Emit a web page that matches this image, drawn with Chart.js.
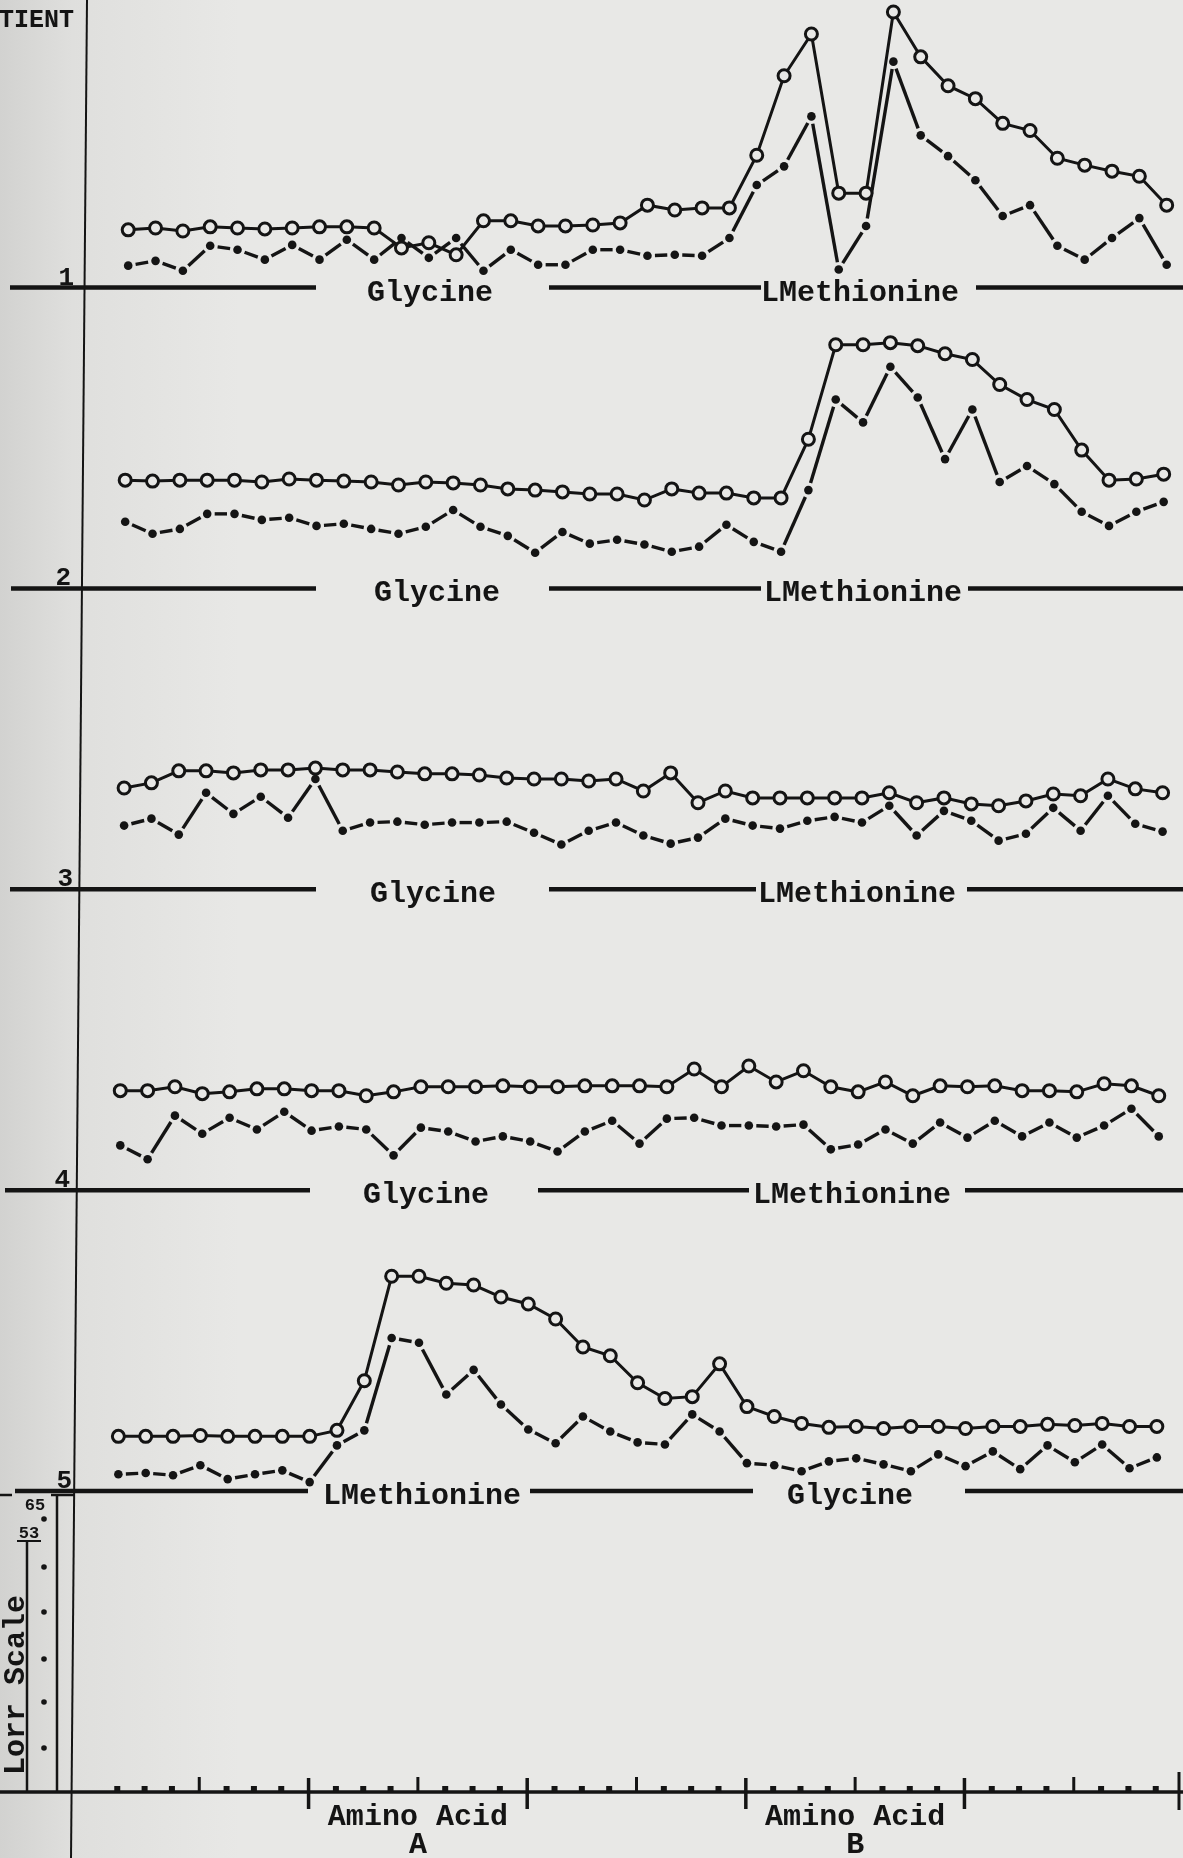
<!DOCTYPE html>
<html>
<head>
<meta charset="utf-8">
<title>Patients 1-5: Glycine / LMethionine</title>
<script src="https://cdn.jsdelivr.net/npm/chart.js@4.4.1/dist/chart.umd.min.js"></script>
<style>
  html, body { margin: 0; padding: 0; background: #e8e8e6; }
  canvas { display: block; }
</style>
</head>
<body>
<canvas id="chart" width="1183" height="1858"></canvas>
<script>
// heights above each patient's base line (one panel = 100)
var patients = ["1", "2", "3", "4", "5"];

var circles1 = [19.2, 19.8, 18.8, 20.2, 19.8, 19.5, 19.8, 20.2, 20.2, 19.8, 13.2, 14.9, 10.9, 22.2, 22.2, 20.5, 20.5,
  20.8, 21.5, 27.4, 25.8, 26.5, 26.5, 44.0, 70.4, 84.3, 31.4, 31.4, 91.6, 76.7, 67.1, 62.8, 54.6, 52.2, 43.0, 40.7, 38.7, 37.0, 27.4];
var dots1 = [7.3, 8.9, 5.6, 13.9, 12.6, 9.3, 14.2, 9.3, 15.9, 9.3, 16.5, 9.9, 16.5, 5.6, 12.6, 7.6, 7.6,
  12.6, 12.6, 10.6, 10.9, 10.6, 16.5, 34.1, 40.3, 56.9, 6.0, 20.5, 75.1, 50.6, 43.7, 35.7, 23.8, 27.4, 13.9, 9.3, 16.5, 23.1, 7.6];

var circles2 = [36.0, 35.7, 36.0, 36.0, 36.0, 35.4, 36.4, 36.0, 35.7, 35.4, 34.4, 35.4, 35.1, 34.4, 33.1, 32.7, 32.1,
  31.4, 31.4, 29.4, 33.1, 31.7, 31.7, 30.1, 30.1, 49.6, 81.0, 81.0, 81.7, 80.7, 78.0, 76.1, 67.8, 62.8, 59.5, 46.0, 36.0, 36.4, 38.0];
var dots2 = [22.2, 18.2, 19.8, 24.8, 24.8, 22.8, 23.5, 20.8, 21.5, 19.8, 18.2, 20.5, 26.1, 20.5, 17.5, 11.9, 18.8,
  14.9, 16.2, 14.6, 12.2, 13.9, 21.2, 15.5, 12.2, 32.7, 62.8, 55.2, 73.7, 63.5, 43.0, 59.5, 35.4, 40.7, 34.7, 25.5, 20.8, 25.5, 28.8];

var circles3 = [33.7, 35.4, 39.4, 39.4, 38.7, 39.7, 39.7, 40.3, 39.7, 39.7, 39.0, 38.4, 38.4, 38.0, 37.0, 36.7, 36.7,
  36.0, 36.7, 32.7, 38.7, 28.8, 32.7, 30.4, 30.4, 30.4, 30.4, 30.4, 32.1, 28.8, 30.4, 28.4, 27.8, 29.4, 31.7, 31.1, 36.7, 33.4, 32.1];
var dots3 = [21.2, 23.5, 18.2, 32.1, 25.1, 30.8, 23.8, 36.7, 19.5, 22.2, 22.5, 21.5, 22.2, 22.2, 22.5, 18.8, 14.9,
  19.5, 22.2, 17.9, 15.2, 17.2, 23.5, 21.2, 20.2, 22.8, 24.1, 22.2, 27.8, 17.9, 26.1, 22.8, 16.2, 18.5, 27.1, 19.5, 31.1, 21.8, 19.2];

var circles4 = [33.1, 33.1, 34.4, 32.1, 32.7, 33.7, 33.7, 33.1, 33.1, 31.4, 32.7, 34.4, 34.4, 34.4, 34.7, 34.4, 34.4, 34.7,
  34.7, 34.7, 34.4, 40.3, 34.4, 41.3, 36.0, 39.7, 34.4, 32.7, 36.0, 31.4, 34.7, 34.4, 34.7, 33.1, 33.1, 32.7, 35.4, 34.7, 31.4];
var dots4 = [14.9, 10.3, 24.8, 18.8, 24.1, 20.2, 26.1, 19.8, 21.2, 20.2, 11.6, 20.8, 19.5, 16.2, 17.9, 16.2, 12.9,
  19.5, 23.1, 15.5, 23.8, 24.1, 21.5, 21.5, 21.2, 21.8, 13.6, 15.2, 20.2, 15.5, 22.5, 17.5, 23.1, 17.9, 22.5, 17.5, 21.5, 27.1, 17.9];

var circles5 = [18.2, 18.2, 18.2, 18.5, 18.2, 18.2, 18.2, 18.2, 20.2, 36.7, 71.4, 71.4, 69.1, 68.5, 64.5, 62.2, 57.2, 47.9,
  45.0, 36.0, 30.8, 31.4, 42.3, 28.1, 24.8, 22.5, 21.2, 21.5, 20.8, 21.5, 21.5, 20.8, 21.5, 21.5, 22.2, 21.8, 22.5, 21.5, 21.5];
var dots5 = [5.6, 6.0, 5.3, 8.6, 4.0, 5.6, 6.9, 3.0, 15.2, 20.2, 50.9, 49.3, 32.1, 40.3, 28.8, 20.5, 15.9,
  24.8, 19.8, 16.2, 15.5, 25.5, 19.8, 9.3, 8.6, 6.6, 9.9, 10.9, 8.9, 6.6, 12.2, 8.3, 13.2, 7.3, 15.2, 9.6, 15.5, 7.6, 11.2];

// time of first reading on each sheet (one unit = one tick on the bottom axis)
var startTime = [1.40, 1.29, 1.25, 1.11, 1.04];

var periodLabels = [
  ["Glycine", "LMethionine"],
  ["Glycine", "LMethionine"],
  ["Glycine", "LMethionine"],
  ["Glycine", "LMethionine"],
  ["LMethionine", "Glycine"]
];
var axisLabels = [["Amino Acid", "A"], ["Amino Acid", "B"]];
var axisLabelAt = [12, 28];
var lorrLabels = ["65", "53"];

var circleSets = [circles1, circles2, circles3, circles4, circles5];
var dotSets = [dots1, dots2, dots3, dots4, dots5];

var INK = "#141414";
var PAPER = "#e8e8e6";
var MONO = "'Liberation Mono', 'DejaVu Sans Mono', monospace";

// where the base lines are broken for the labels (px)
var panelLayout = [
  { segs: [[10, 316], [549, 761], [976, 1183]], text: [430, 860], num: 74 },
  { segs: [[11, 316], [549, 761], [968, 1183]], text: [437, 863], num: 71 },
  { segs: [[10, 316], [549, 756], [967, 1183]], text: [433, 857], num: 73 },
  { segs: [[5, 310], [538, 749], [965, 1183]], text: [426, 852], num: 70 },
  { segs: [[15, 308], [530, 753], [965, 1183]], text: [422, 850], num: 72 }
];

function panelBase(i) { return (patients.length - i) * 100; }

function toPoints(values, i) {
  return values.map(function(v, k) { return { x: startTime[i] + k, y: panelBase(i) + v }; });
}

var GAP = 7.5;
function segLen(ctx) {
  return Math.hypot(ctx.p1.x - ctx.p0.x, ctx.p1.y - ctx.p0.y);
}

var datasets = [];
patients.forEach(function(p, i) {
  datasets.push({
    label: "Patient " + p + " (o)",
    data: toPoints(circleSets[i], i),
    borderColor: INK,
    borderWidth: 3,
    pointRadius: 6,
    pointBorderWidth: 3,
    pointBorderColor: INK,
    pointBackgroundColor: PAPER,
    tension: 0,
    clip: false
  });
  datasets.push({
    label: "Patient " + p + " (.)",
    data: toPoints(dotSets[i], i),
    borderColor: INK,
    borderWidth: 3.4,
    pointRadius: 4.3,
    pointBorderWidth: 0,
    pointBackgroundColor: INK,
    tension: 0,
    clip: false,
    segment: {
      borderDash: function(ctx) {
        var d = Math.max(segLen(ctx) - 2 * GAP, 1);
        return [d, 2 * GAP];
      },
      borderDashOffset: function(ctx) {
        return Math.max(segLen(ctx) - 2 * GAP, 1) + GAP;
      }
    }
  });
});

function stroke(c, x1, y1, x2, y2) {
  c.beginPath(); c.moveTo(x1, y1); c.lineTo(x2, y2); c.stroke();
}

var paperPlugin = {
  id: "paper",
  beforeDraw: function(chart) {
    var c = chart.ctx;
    var g = c.createLinearGradient(0, 0, 240, 0);
    g.addColorStop(0, "#d2d2d0");
    g.addColorStop(0.3, "#dfdfdd");
    g.addColorStop(1, PAPER);
    c.save();
    c.fillStyle = g;
    c.fillRect(0, 0, chart.width, chart.height);
    c.restore();
  }
};

var sheetPlugin = {
  id: "sheet",
  beforeDatasetsDraw: function(chart) {
    var c = chart.ctx, xs = chart.scales.x, ys = chart.scales.y;
    c.save();
    c.strokeStyle = INK;
    c.fillStyle = INK;
    c.lineCap = "butt";

    // heading, cut off at the edge
    c.font = "bold 25px " + MONO;
    c.textAlign = "left";
    c.fillText("TIENT", -1, 27);

    // margin line
    c.lineWidth = 2;
    stroke(c, 87, 0, 71, chart.height);

    // base line of every patient
    patients.forEach(function(p, i) {
      var y = ys.getPixelForValue(panelBase(i));
      var L = panelLayout[i];
      c.lineWidth = 4.5;
      L.segs.forEach(function(s) { stroke(c, s[0], y, s[1], y); });
      c.font = "bold 30px " + MONO;
      c.textAlign = "center";
      periodLabels[i].forEach(function(t, k) { c.fillText(t, L.text[k], y + 13); });
      c.font = "bold 26px " + MONO;
      c.textAlign = "right";
      c.fillText(p, L.num, y - 3);
    });

    // bottom time axis
    var y0 = ys.getPixelForValue(0);
    c.lineWidth = 3.5;
    stroke(c, 0, y0, chart.width, y0);
    for (var u = 1; u <= 39; u++) {
      var x = xs.getPixelForValue(u);
      if (u % 8 === 0) {
        c.lineWidth = 3.5; stroke(c, x, y0 - 14, x, y0 + 17);
      } else if (u % 8 === 4) {
        c.lineWidth = 3; stroke(c, x, y0 - 15, x, y0);
      } else {
        c.fillRect(x - 3, y0 - 6, 6, 6);
      }
    }
    c.lineWidth = 3;
    stroke(c, 1179, y0 - 20, 1179, y0 + 18);

    c.font = "bold 30px " + MONO;
    c.textAlign = "center";
    axisLabels.forEach(function(lab, k) {
      var x = xs.getPixelForValue(axisLabelAt[k]);
      c.fillText(lab[0], x, y0 + 33);
      c.fillText(lab[1], x, y0 + 61);
    });

    // Lorr scale bar
    c.lineWidth = 2.5;
    stroke(c, 0, 1495, 12, 1495);
    stroke(c, 51, 1495, 74, 1495);
    stroke(c, 57, 1495, 57, y0);
    c.lineWidth = 2;
    stroke(c, 17, 1541, 41, 1541);
    c.lineWidth = 2.5;
    stroke(c, 27, 1541, 27, y0);
    c.font = "bold 17px " + MONO;
    c.textAlign = "center";
    c.fillText(lorrLabels[0], 35, 1510);
    c.fillText(lorrLabels[1], 29, 1538);
    [1519, 1567, 1612, 1659, 1702, 1748].forEach(function(yy) {
      c.beginPath(); c.arc(44, yy, 2.8, 0, Math.PI * 2); c.fill();
    });
    c.save();
    c.translate(24, 1685);
    c.rotate(-Math.PI / 2);
    c.font = "bold 30px " + MONO;
    c.textAlign = "center";
    c.fillText("Lorr Scale", 0, 0);
    c.restore();

    c.restore();
  }
};

new Chart(document.getElementById("chart"), {
  type: "line",
  data: { datasets: datasets },
  options: {
    responsive: false,
    devicePixelRatio: 1,
    animation: false,
    layout: { padding: { left: 0, right: 0, top: 0, bottom: 66 } },
    plugins: { legend: { display: false }, tooltip: { enabled: false } },
    scales: {
      x: { type: "linear", min: -2.962, max: 39.668, display: false },
      y: { type: "linear", min: 0, max: 592.6, display: false }
    }
  },
  plugins: [paperPlugin, sheetPlugin]
});
</script>
</body>
</html>
